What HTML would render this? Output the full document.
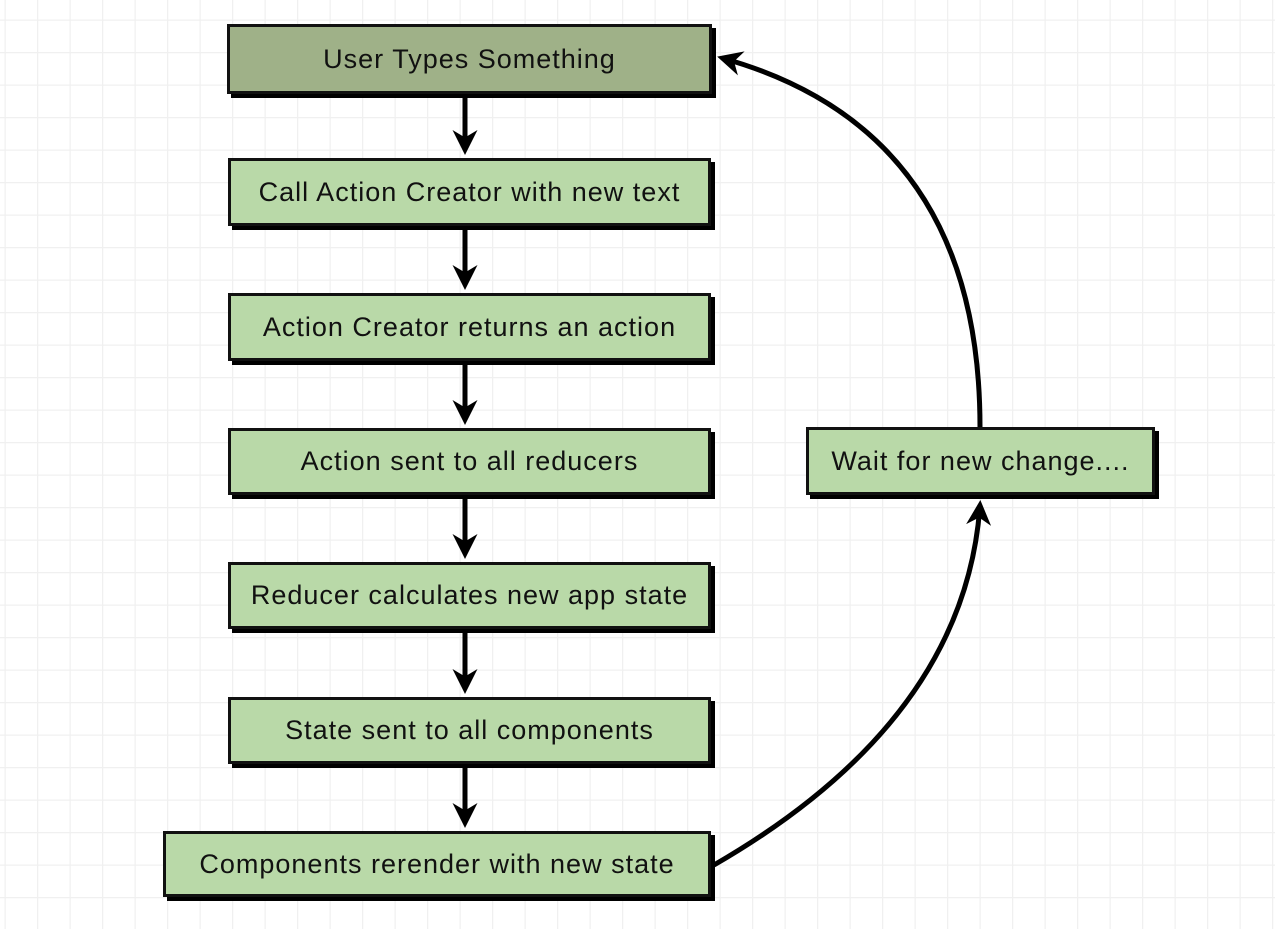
<!DOCTYPE html>
<html><head><meta charset="utf-8"><style>
html,body{margin:0;padding:0;background:#fff}
body{width:1275px;height:929px;overflow:hidden;position:relative;font-family:"Liberation Sans",sans-serif}
.b{position:absolute;box-sizing:border-box;background:#b9d9a8;border:3px solid #111;box-shadow:4px 4px 0 #000;display:flex;align-items:center;justify-content:center;font-size:27px;color:#111;letter-spacing:1px;white-space:nowrap}
</style></head><body>
<svg width="1275" height="929" style="position:absolute;left:0;top:0">
<defs>
<pattern id="g" x="4.5" y="19.5" width="32.5" height="32.5" patternUnits="userSpaceOnUse">
<path d="M0 0H32.5M0 0V32.5" stroke="#f0f0f0" stroke-width="2.5" fill="none"/>
</pattern>
<marker id="a" markerWidth="6" markerHeight="6" refX="4" refY="3" orient="auto" markerUnits="strokeWidth">
<path d="M0,0.5 L5,3 L0,5.5 L1.5,3 Z" fill="#000"/>
</marker>
</defs>
<rect width="1275" height="929" fill="url(#g)"/>
<g stroke="#000" stroke-width="5" fill="none" marker-end="url(#a)">
<line x1="465" y1="96" x2="465" y2="150"/>
<line x1="465" y1="230" x2="465" y2="285"/>
<line x1="465" y1="364" x2="465" y2="420"/>
<line x1="465" y1="499" x2="465" y2="554"/>
<line x1="465" y1="633" x2="465" y2="689"/>
<line x1="465" y1="767" x2="465" y2="823"/>
<path d="M714 865 Q965 720 980 505"/>
<path d="M980 427 Q980 130 722 58"/>
</g>
</svg>
<div class="b" style="left:227px;top:24px;width:485px;height:70px;background:#9fb188">User Types Something</div>
<div class="b" style="left:228px;top:158px;width:483px;height:68px">Call Action Creator with new text</div>
<div class="b" style="left:228px;top:293px;width:483px;height:68px">Action Creator returns an action</div>
<div class="b" style="left:228px;top:428px;width:483px;height:67px">Action sent to all reducers</div>
<div class="b" style="left:228px;top:562px;width:483px;height:67px">Reducer calculates new app state</div>
<div class="b" style="left:228px;top:697px;width:483px;height:67px">State sent to all components</div>
<div class="b" style="left:163px;top:831px;width:548px;height:66px">Components rerender with new state</div>
<div class="b" style="left:806px;top:427px;width:349px;height:68px">Wait for new change....</div>
</body></html>
